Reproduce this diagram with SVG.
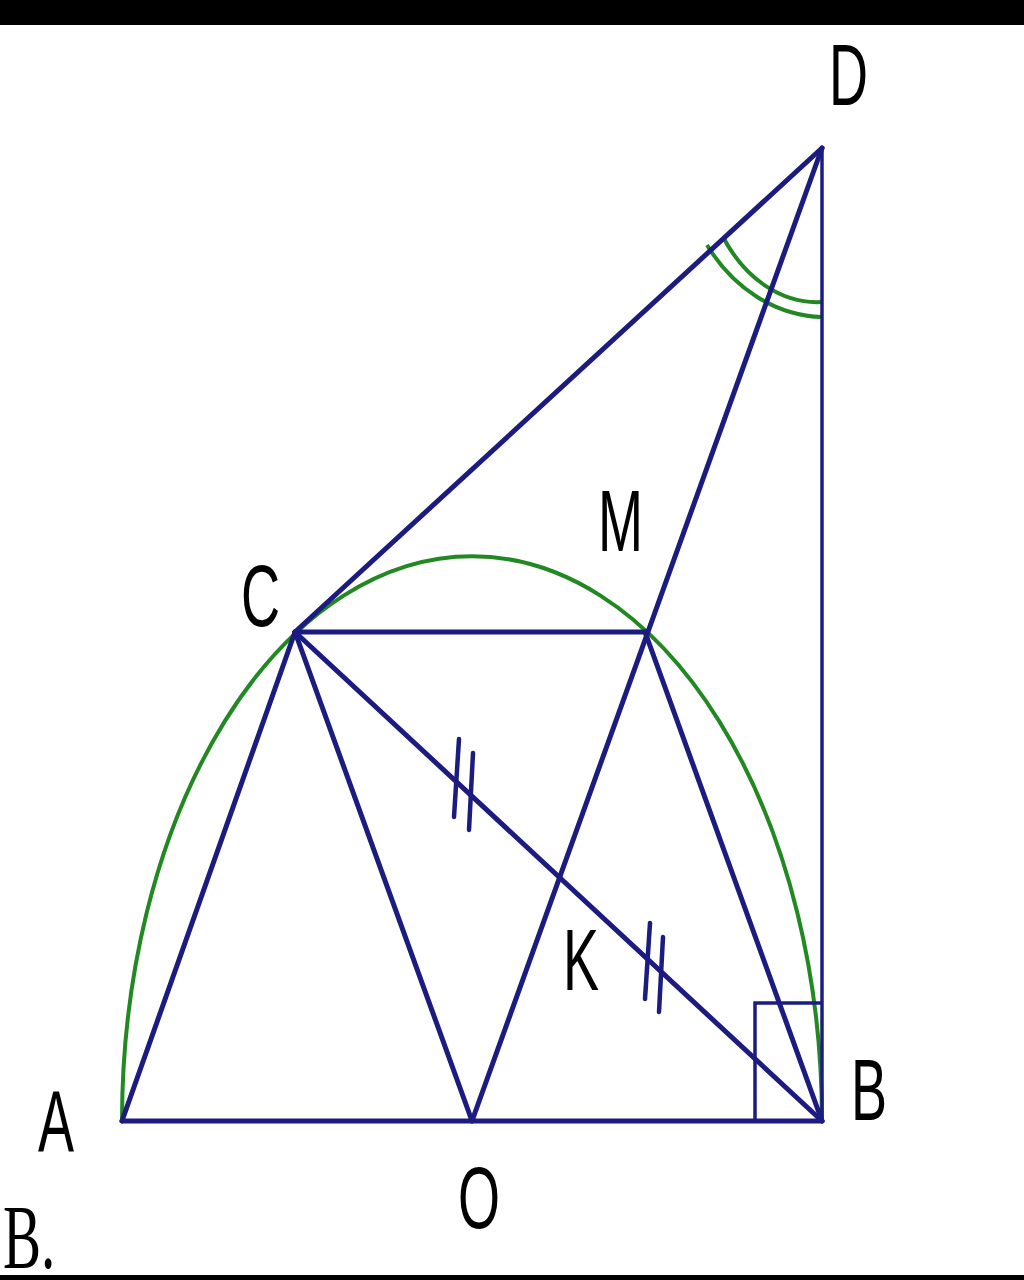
<svg xmlns="http://www.w3.org/2000/svg" width="1024" height="1280" viewBox="0 0 1024 1280">
<style>
.ln{stroke:#1c1c80;stroke-width:5;stroke-linecap:round;fill:none}
.thin{stroke:#1c1c80;stroke-width:3.5;fill:none}
.gr{stroke:#228822;stroke-width:4;fill:none}
.lbl{font-family:"Liberation Sans",Arial,sans-serif;font-size:54px;fill:#000}
.tk{stroke:#1c1c80;stroke-width:4.5;stroke-linecap:round}
</style>
<rect x="0" y="0" width="1024" height="1280" fill="#fff"/>
<rect x="0" y="0" width="1024" height="25" fill="#000"/>
<rect x="0" y="1275" width="1024" height="5" fill="#000"/>
<g id="arcs">
<path class="gr" d="M122,1121 A350 565 0 0 1 822,1121"/>
<path class="gr" d="M707,245 A145 169 0 0 0 822,317"/>
<path class="gr" d="M723,237 A115 154 0 0 0 822,302"/>
</g>
<g id="connectors">
<line class="ln" x1="122" y1="1121" x2="822" y2="1121"/>
<line class="ln" x1="122" y1="1121" x2="295" y2="632"/>
<line class="ln" x1="295" y1="632" x2="472" y2="1121"/>
<line class="ln" x1="472" y1="1121" x2="822" y2="148"/>
<line class="ln" x1="645" y1="632" x2="822" y2="1121"/>
<line class="ln" x1="295" y1="632" x2="645" y2="632"/>
<line class="ln" x1="295" y1="632" x2="822" y2="1121"/>
<line class="ln" x1="295" y1="632" x2="822" y2="148"/>
<line class="thin" x1="822" y1="148" x2="822" y2="1121"/>
<polyline class="thin" points="755,1121 755,1003 822,1003"/>
<line class="tk" x1="459" y1="739" x2="454" y2="817"/>
<line class="tk" x1="473" y1="753" x2="469" y2="830"/>
<line class="tk" x1="650" y1="923" x2="645" y2="999"/>
<line class="tk" x1="663" y1="937" x2="659" y2="1012"/>
</g>
<g id="D"><text class="lbl" transform="translate(829,105) scale(1,1.6)">D</text></g>
<g id="M"><text class="lbl" transform="translate(598,551) scale(1,1.6)">M</text></g>
<g id="C"><text class="lbl" transform="translate(241,626) scale(1,1.6)">C</text></g>
<g id="K"><text class="lbl" transform="translate(563,990) scale(1,1.6)">K</text></g>
<g id="B"><text class="lbl" transform="translate(851,1120) scale(1,1.6)">B</text></g>
<g id="A"><text class="lbl" transform="translate(38,1152) scale(1,1.6)">A</text></g>
<g id="O"><text class="lbl" transform="translate(458,1228) scale(1,1.6)">O</text></g>
<g id="answer"><text transform="translate(3,1268) scale(1,1.6)" font-family="'Liberation Serif','Times New Roman',serif" font-size="57px" fill="#000">B.</text></g>
</svg>
